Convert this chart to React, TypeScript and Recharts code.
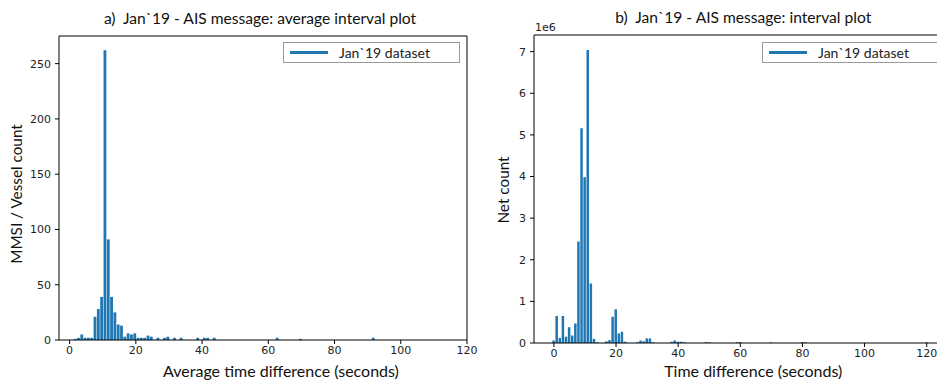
import React from "react";
import { BarChart, Bar, XAxis, YAxis, Legend, Label } from "recharts";

// a) average interval per vessel (bins of 1 s)
const avgSeconds = [
  1.75, 2.75, 3.75, 4.75, 5.75, 6.75, 7.75, 8.75, 9.75, 10.75, 11.75, 12.75, 13.75, 14.75, 15.75, 16.75,
  17.75, 18.75, 19.75, 20.75, 21.75, 22.75, 23.75, 24.75, 26.75, 28.75, 29.75, 31.75, 33.75, 38.75, 40.75,
  41.75, 43.75, 62.75, 69.75, 91.75,
];
const vesselCounts = [
  1, 2, 5, 2, 2, 2, 21, 28, 39, 262, 91, 39, 25, 14, 13, 3,
  6, 5, 6, 2, 2, 2, 4, 3, 2, 2, 3, 2, 2, 2, 2,
  2, 2, 2, 1, 2,
];

// b) every message interval
const intervalSeconds = [
  0, 1, 2, 3, 4, 5, 6, 7, 8, 9, 10, 11, 12, 13, 14, 17, 18, 19, 20, 21, 22, 23, 27, 28, 29, 30, 31, 32, 38, 39,
  40, 41, 42, 49, 50, 59, 60, 70, 80, 81, 120,
];
const netCounts = [
  60000, 650000, 120000, 650000, 150000, 380000, 180000, 470000, 2440000, 5160000, 3980000, 7040000, 1430000,
  100000, 20000, 40000, 70000, 630000, 810000, 230000, 270000, 30000, 20000, 60000, 40000, 110000, 110000, 20000,
  30000, 60000, 30000, 30000, 20000, 20000, 20000, 20000, 20000, 15000, 20000, 20000, 15000,
];

const xTicks = [0, 20, 40, 60, 80, 100, 120];
const leftYTicks = [0, 50, 100, 150, 200, 250];
const rightYTicks = [0, 1e6, 2e6, 3e6, 4e6, 5e6, 6e6, 7e6];

const leftData = avgSeconds.map((x, i) => ({ x, count: vesselCounts[i] }));
const rightData = intervalSeconds.map((x, i) => ({ x, count: netCounts[i] }));

const BLUE = "#1f77b4";
const labelFont = "Lato, 'Open Sans', sans-serif";
const tickStyle = { fontFamily: "'DejaVu Sans', sans-serif", fontSize: 11, fill: "#222" };
const titleStyle = { fontFamily: labelFont, fontSize: 15.6, fill: "#111", whiteSpace: "pre" as const };
const xLabelStyle = { fontFamily: labelFont, fontSize: 16, fill: "#111" };
const yLabelStyle = { fontFamily: labelFont, fontSize: 15.3, fill: "#111" };

const LegendBox = () => (
  <div
    style={{
      boxSizing: "border-box",
      width: 177,
      height: 21,
      border: "1.5px solid #9a9a9a",
      background: "#fff",
      display: "flex",
      alignItems: "center",
      fontFamily: labelFont,
      fontSize: 14,
      color: "#222",
    }}
  >
    <span style={{ display: "inline-block", width: 38, height: 3, background: BLUE, marginLeft: 6, marginRight: 11 }} />
    <span>Jan`19 dataset</span>
  </div>
);

const App = () => {
  return (
    <div style={{ position: "absolute", left: 0, top: 0, width: 937, height: 382, overflow: "hidden", background: "#fff" }}>
      <div style={{ position: "absolute", left: 0, top: 0 }}>
        <BarChart width={480} height={382} data={leftData} margin={{ top: 35, right: 12, bottom: 0, left: 0 }}>
          <XAxis
            dataKey="x"
            type="number"
            domain={[-3.2, 120]}
            allowDataOverflow
            ticks={xTicks}
            height={42}
            tick={tickStyle}
            tickSize={4}
            tickMargin={2}
            stroke="#000"
          >
            <Label value="Average time difference (seconds)" position="insideBottom" offset={5} dx={18} style={xLabelStyle} />
          </XAxis>
          <XAxis
            xAxisId="top"
            orientation="top"
            dataKey="x"
            type="number"
            domain={[-3.2, 120]}
            allowDataOverflow
            height={1}
            tick={false}
            tickLine={false}
            stroke="#000"
          >
            <Label value={"a)\u00a0 Jan`19 - AIS message: average interval plot"} position="top" offset={11} dx={-3} style={titleStyle} />
          </XAxis>
          <YAxis
            type="number"
            domain={[0, 275]}
            allowDataOverflow
            ticks={leftYTicks}
            width={59}
            tick={tickStyle}
            tickSize={4}
            tickMargin={4}
            stroke="#000"
          >
            <Label
              content={({ viewBox }: any) => {
                const cx = viewBox.x + 16;
                const cy = viewBox.y + viewBox.height / 2 + 6;
                return (
                  <text x={cx} y={cy} transform={`rotate(-90 ${cx} ${cy})`} textAnchor="middle" dominantBaseline="central" style={yLabelStyle}>
                    MMSI / Vessel count
                  </text>
                );
              }}
            />
          </YAxis>
          <YAxis yAxisId="right" orientation="right" domain={[0, 275]} width={1} tick={false} tickLine={false} stroke="#000" />
          <Legend
            layout="vertical"
            align="center"
            verticalAlign="middle"
            wrapperStyle={{ left: 283, top: 42, width: 177 }}
            content={() => <LegendBox />}
          />
          <Bar dataKey="count" fill={BLUE} barSize={2.8} isAnimationActive={false} />
        </BarChart>
      </div>

      <div style={{ position: "absolute", left: 480, top: 0 }}>
        <BarChart width={480} height={382} data={rightData} margin={{ top: 34, right: 12.4, bottom: 0, left: 0 }}>
          <XAxis
            dataKey="x"
            type="number"
            domain={[-6.4, 126.4]}
            allowDataOverflow
            ticks={xTicks}
            height={39}
            tick={tickStyle}
            tickSize={4}
            tickMargin={2}
            stroke="#000"
          >
            <Label value="Time difference (seconds)" position="insideBottom" offset={5} dx={13} style={xLabelStyle} />
          </XAxis>
          <XAxis
            xAxisId="top"
            orientation="top"
            dataKey="x"
            type="number"
            domain={[-6.4, 126.4]}
            allowDataOverflow
            height={1}
            tick={false}
            tickLine={false}
            stroke="#000"
          >
            <Label value={"b)\u00a0 Jan`19 - AIS message: interval plot"} position="top" offset={11} dx={3} style={titleStyle} />
          </XAxis>
          <YAxis
            type="number"
            domain={[0, 7.4e6]}
            allowDataOverflow
            ticks={rightYTicks}
            tickFormatter={(v: number) => String(v / 1e6)}
            width={54}
            tick={tickStyle}
            tickSize={4}
            tickMargin={4}
            stroke="#000"
          >
            <Label
              content={({ viewBox }: any) => {
                const cx = viewBox.x + 23;
                const cy = viewBox.y + viewBox.height / 2 + 1;
                return (
                  <text x={cx} y={cy} transform={`rotate(-90 ${cx} ${cy})`} textAnchor="middle" dominantBaseline="central" style={yLabelStyle}>
                    Net count
                  </text>
                );
              }}
            />
          </YAxis>
          <YAxis yAxisId="right" orientation="right" domain={[0, 7.4e6]} width={1} tick={false} tickLine={false} stroke="#000">
            <Label
              content={({ viewBox }: any) => (
                <text x={55} y={viewBox.y - 4} textAnchor="start" style={tickStyle}>
                  1e6
                </text>
              )}
            />
          </YAxis>
          <Legend
            layout="vertical"
            align="center"
            verticalAlign="middle"
            wrapperStyle={{ left: 282, top: 42, width: 177 }}
            content={() => <LegendBox />}
          />
          <Bar dataKey="count" fill={BLUE} barSize={2.5} isAnimationActive={false} />
        </BarChart>
      </div>
    </div>
  );
};

export default App;
